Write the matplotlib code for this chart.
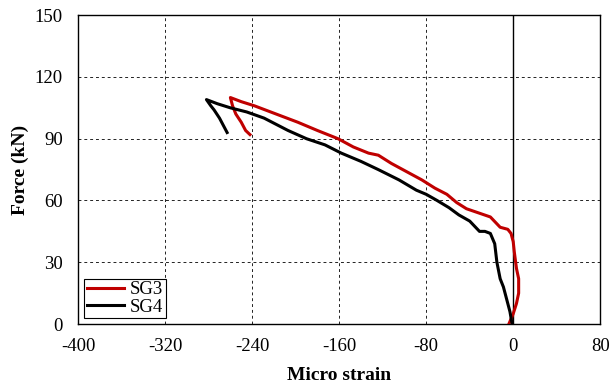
import matplotlib.pyplot as plt

plt.rcParams['font.family'] = ['Liberation Serif', 'DejaVu Serif']
plt.rcParams['axes.unicode_minus'] = False

# SG3 strain gauge (micro strain, force kN)
sg3_strain = [-4, 0, 3, 5, 5, 3, 2, 1, 0, -2, -5, -12, -21, -32, -43, -52, -61, -72, -84, -98,
              -112, -124, -133, -147, -161, -180, -198, -218, -238, -250, -260, -258, -255,
              -250, -246, -242]
sg3_force = [0, 5, 10, 15, 22, 27, 31, 35, 40, 44, 46, 47, 52, 54, 56, 59, 63, 66, 70, 74,
             78, 82, 83, 86, 90, 94, 98, 102, 106, 108, 110, 106, 102, 98, 94, 92]

# SG4 strain gauge
sg4_strain = [-1, -3, -6, -9, -12, -15, -17, -21, -26, -31, -40, -50, -59, -70, -80, -89,
              -105, -124, -140, -158, -173, -190, -207, -218, -229, -245, -260, -272, -282,
              -278, -275, -270, -266, -263]
sg4_force = [0, 6, 12, 18, 22, 30, 39, 44, 45, 45, 50, 53, 56.5, 60, 63, 65, 70, 75, 79,
             83, 87, 90, 94, 97, 100, 103, 105, 107, 109, 106, 104, 100, 96, 93]

x_ticks = [-400, -320, -240, -160, -80, 0, 80]
y_ticks = [0, 30, 60, 90, 120, 150]

fig = plt.figure(figsize=(6.1, 3.89), dpi=100)
ax = fig.add_axes([0.128, 0.167, 0.856, 0.794])

ax.plot(sg3_strain, sg3_force, color='#C00000', lw=2.2, label='SG3', zorder=3)
ax.plot(sg4_strain, sg4_force, color='black', lw=2.2, label='SG4', zorder=3)

ax.axvline(0, color='black', lw=1.0, zorder=2)

ax.set_xlim(-400, 80)
ax.set_ylim(0, 150)
ax.set_xticks(x_ticks)
ax.set_yticks(y_ticks)
ax.grid(True, color='#222222', ls=(0, (3, 3)), lw=0.7)
ax.tick_params(axis='x', length=0, labelsize=13.5, pad=10)
ax.tick_params(axis='y', length=0, labelsize=13.5, pad=11)

for s in ax.spines.values():
    s.set_linewidth(1.0)

ax.set_xlabel('Micro strain', fontsize=14, fontweight='bold', labelpad=9)
ax.set_ylabel('Force (kN)', fontsize=14, fontweight='bold', labelpad=4)

leg = ax.legend(loc='lower left', fontsize=13.5, fancybox=False, edgecolor='black',
                framealpha=1, borderaxespad=0.3, handlelength=2.0, borderpad=0.15,
                labelspacing=0.0, handletextpad=0.3)
leg.get_frame().set_linewidth(0.8)

fig.savefig('out.png', dpi=100)
